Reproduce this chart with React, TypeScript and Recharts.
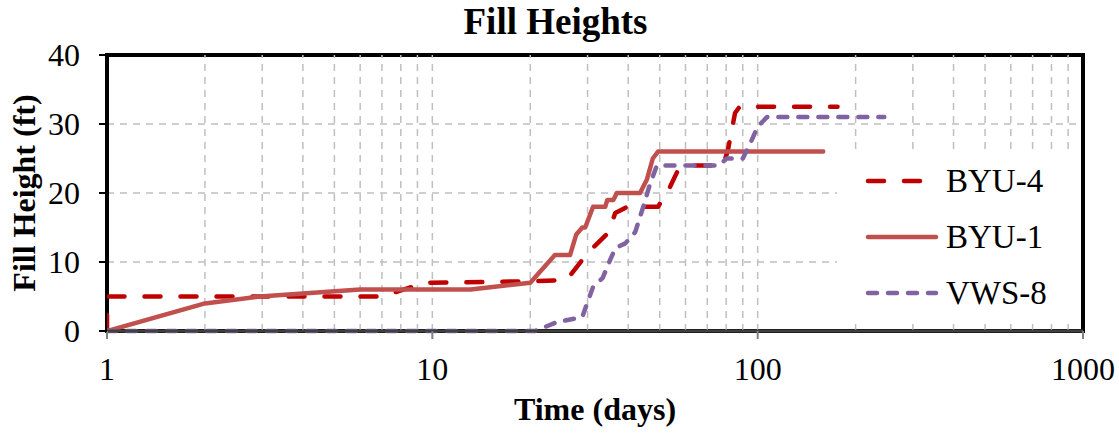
import {
  LineChart,
  Line,
  XAxis,
  YAxis,
  CartesianGrid,
  ReferenceLine,
  ReferenceArea,
  Legend,
} from "recharts";

// ─── Data ─────────────────────────────────────────────────────────────────────

const BYU4_DAYS = [1, 1, 7, 9.5, 20, 25.9, 30, 34.7, 36.5, 39.7, 49.4, 53.8, 56.5, 61.8, 78.3, 81, 85.2, 88, 176];
const BYU4_FT = [0, 5, 5, 7, 7.2, 7.4, 11.3, 14.2, 17.1, 18, 18, 20.9, 23, 24, 24, 26.2, 31.6, 32.5, 32.5];

const BYU1_DAYS = [1, 2, 2.95, 6, 13.1, 20, 23.8, 26.5, 27.7, 28.9, 29.5, 31.2, 34, 34.5, 36, 36.9, 43.5, 45.7, 47.6, 49.4, 159];
const BYU1_FT = [0, 4, 5, 6, 6, 7, 11, 11, 14, 15, 15, 18, 18, 19, 19, 20, 20, 22, 25, 26, 26];

const VWS8_DAYS = [1, 20.7, 24.2, 28.9, 29.9, 31.2, 33.4, 35.2, 36.5, 39.2, 42, 44.5, 46.6, 49, 76.3, 80.2, 90, 94.5, 100, 106.8, 245];
const VWS8_FT = [0, 0, 1.3, 2, 4, 6.4, 7.7, 10.3, 12, 12.7, 14.3, 18, 21.2, 24, 24, 25, 25, 27, 29.6, 31, 31];

const X_TICKS = [1, 10, 100, 1000];
const Y_TICKS = [0, 10, 20, 30, 40];
const GRID_DAYS = [2, 3, 4, 5, 6, 7, 8, 9, 10, 20, 30, 40, 50, 60, 70, 80, 90, 100, 200, 300, 400, 500, 600, 700, 800, 900];

const toPoints = (days: number[], ft: number[]) => days.map((d, i) => ({ day: d, ft: ft[i] }));

const SERIES = [
  { name: "BYU-4", data: toPoints(BYU4_DAYS, BYU4_FT), color: "#C00000", dash: "16 20" },
  { name: "BYU-1", data: toPoints(BYU1_DAYS, BYU1_FT), color: "#C0504D", dash: undefined },
  { name: "VWS-8", data: toPoints(VWS8_DAYS, VWS8_FT), color: "#8064A2", dash: "9 11" },
];

const FONT = '"Liberation Serif", "Times New Roman", serif';
const GRID = "#BFBFBF";

// ─── Legend ───────────────────────────────────────────────────────────────────

function LegendBox() {
  return (
    <div style={{ position: "relative", width: 243, height: 172, background: "#fff" }}>
      {SERIES.map((s, i) => (
        <div
          key={s.name}
          style={{ position: "absolute", left: 29, top: 13 + i * 56, height: 36, display: "flex", alignItems: "center" }}
        >
          <svg width={74} height={10} style={{ overflow: "visible" }}>
            <line
              x1={2} y1={5} x2={70} y2={5}
              stroke={s.color} strokeWidth={4.5} strokeLinecap="round"
              strokeDasharray={s.dash}
            />
          </svg>
          <span style={{ fontFamily: FONT, fontSize: 33, color: "#000", marginLeft: 6, lineHeight: "36px" }}>
            {s.name}
          </span>
        </div>
      ))}
    </div>
  );
}

// ─── Chart ────────────────────────────────────────────────────────────────────

export default function App() {
  return (
    <div style={{ position: "absolute", left: 0, top: 0, width: 1119, height: 433, background: "#fff" }}>
      <div
        style={{
          position: "absolute", left: 0, top: 1, width: 1111, textAlign: "center",
          fontFamily: FONT, fontWeight: "bold", fontSize: 37, lineHeight: "42px",
        }}
      >
        Fill Heights
      </div>
      <div
        style={{
          position: "absolute", left: 24, top: 193, transform: "translate(-50%, -50%) rotate(-90deg)",
          whiteSpace: "nowrap", fontFamily: FONT, fontWeight: "bold", fontSize: 32,
        }}
      >
        Fill Height (ft)
      </div>
      <div
        style={{
          position: "absolute", left: 0, top: 391, width: 1190, textAlign: "center",
          fontFamily: FONT, fontWeight: "bold", fontSize: 32, lineHeight: "36px",
        }}
      >
        Time (days)
      </div>

      <LineChart width={1119} height={433} margin={{ top: 55, right: 36, bottom: 42, left: 7 }}>
        <CartesianGrid vertical={false} stroke={GRID} strokeWidth={1.5} strokeDasharray="7 6" />
        {GRID_DAYS.map((d) => (
          <ReferenceLine key={d} x={d} stroke={GRID} strokeWidth={1.5} strokeDasharray="7 6" />
        ))}
        <XAxis
          dataKey="day"
          type="number"
          scale="log"
          domain={[1, 1000]}
          ticks={X_TICKS}
          allowDataOverflow
          height={60}
          axisLine={{ stroke: "#404040", strokeWidth: 3 }}
          tickLine={{ stroke: "#808080", strokeWidth: 2 }}
          tickSize={8}
          tickMargin={18}
          tick={{ fontSize: 32, fontFamily: FONT, fill: "#000" }}
        />
        <YAxis
          type="number"
          domain={[0, 40]}
          ticks={Y_TICKS}
          width={100}
          axisLine={false}
          tickLine={{ stroke: "#000", strokeWidth: 2 }}
          tickSize={8}
          tickMargin={19}
          tick={{ fontSize: 32, fontFamily: FONT, fill: "#000" }}
        />
        {SERIES.map((s) => (
          <Line
            key={s.name}
            data={s.data}
            dataKey="ft"
            name={s.name}
            type="linear"
            stroke={s.color}
            strokeWidth={4.5}
            strokeDasharray={s.dash}
            strokeLinecap="round"
            strokeLinejoin="round"
            dot={false}
            activeDot={false}
            isAnimationActive={false}
          />
        ))}
        <ReferenceArea x1={1} x2={1000} y1={0} y2={40} fill="none" fillOpacity={0} stroke="#000" strokeWidth={4} />
        <Legend
          layout="horizontal"
          verticalAlign="middle"
          align="center"
          content={() => <LegendBox />}
          wrapperStyle={{ left: 837, top: 150, width: 243, height: 172 }}
        />
      </LineChart>
    </div>
  );
}
